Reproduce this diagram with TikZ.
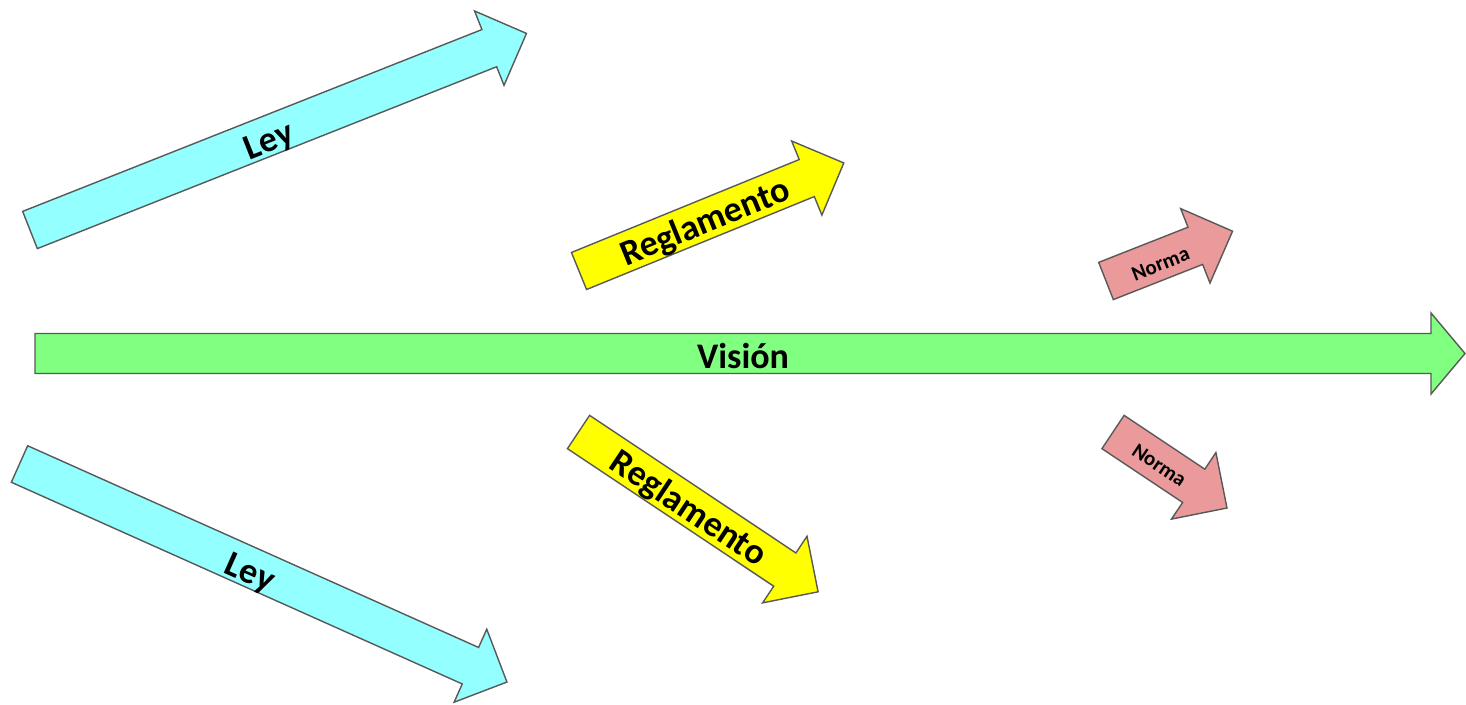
\documentclass[tikz,border=0pt]{standalone}
\usepackage{fontspec}
\setmainfont{Carlito}
\definecolor{leycol}{RGB}{147,255,255}
\definecolor{regcol}{RGB}{255,255,0}
\definecolor{viscol}{RGB}{128,255,128}
\definecolor{norcol}{RGB}{234,154,154}
\definecolor{edgecol}{RGB}{89,89,89}
\tikzset{
  blockarrow/.style={draw=edgecol, line width=1.4pt, line join=miter},
  bigtext/.style={font=\fontsize{36}{40}\selectfont\bfseries, inner sep=0pt, transform shape},
  smalltext/.style={font=\fontsize{21}{24}\selectfont\bfseries, inner sep=0pt, transform shape},
}
% #1 name, #2 tail center, #3 angle, #4 length, #5 fill, #6 text style, #7 text, #8 along, #9 offset
\newcommand{\mkarrow}[9]{%
  \begin{scope}[shift={#2}, rotate=#3]
    \draw[blockarrow, fill=#5] (0,-20) -- ({#4-40},-20) -- ({#4-40},-40) -- (#4,0)
      -- ({#4-40},40) -- ({#4-40},20) -- (0,20) -- cycle;
    \node[#6] (#1) at (#8,#9) {#7};
  \end{scope}}
\begin{document}
\begin{tikzpicture}[x=1pt,y=-1pt]
\useasboundingbox (0,0) rectangle (1466,704);
% Vision
\draw[blockarrow, fill=viscol] (35,333.5) -- (1431,333.5) -- (1431,313) -- (1465,353.5)
  -- (1431,394) -- (1431,373.5) -- (35,373.5) -- cycle;
\node[bigtext] (vision) at (743,356) {Visión};
% upper arrows
\mkarrow{leyA}{(30,230)}{21.6}{534}{leycol}{bigtext}{Ley}{255}{7}
\mkarrow{regA}{(579,271)}{22.2}{286}{regcol}{bigtext}{Reglamento}{135}{4}
\mkarrow{norA}{(1106,281)}{21.5}{136}{norcol}{smalltext}{Norma}{57}{4}
% lower arrows
\mkarrow{leyB}{(19.5,464)}{-24.1}{534}{leycol}{bigtext}{Ley}{255}{7}
\mkarrow{regB}{(578.5,432)}{-33.7}{288}{regcol}{bigtext}{Reglamento}{134}{4}
\mkarrow{norB}{(1113,432)}{-33.7}{137}{norcol}{smalltext}{Norma}{57}{2}
\end{tikzpicture}
\end{document}
